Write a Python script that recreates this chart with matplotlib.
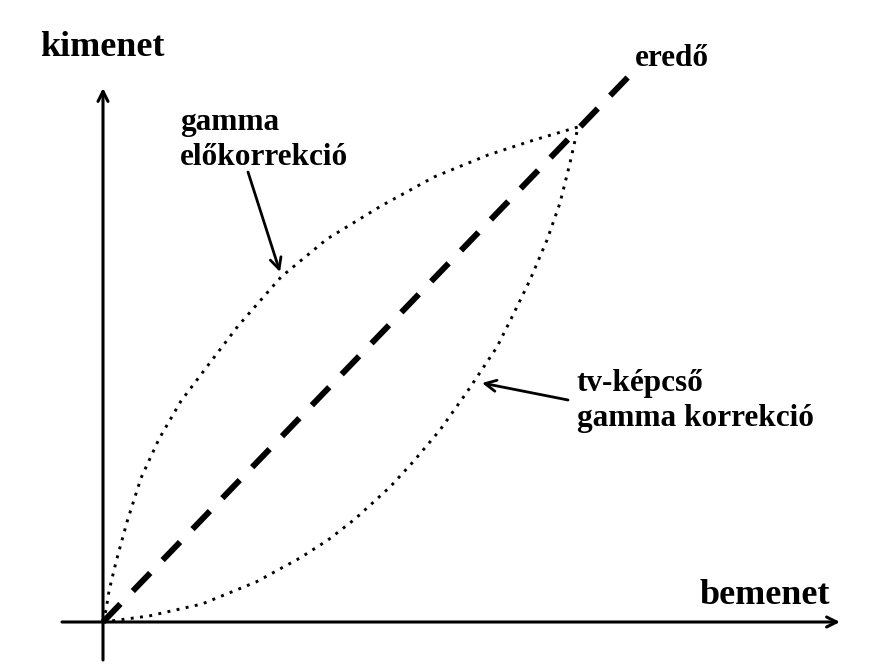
import matplotlib.pyplot as plt

# Görbék pontjai (origó = tengelyek metszéspontja)
elo_x = [0, 3, 6, 13, 24, 38, 56, 78, 106, 135, 178, 224, 278, 331, 385, 431, 475]
elo_y = [0, 12, 31, 60, 100, 144, 183, 221, 258, 296, 345, 383, 416, 445, 467, 482, 495]

tv_x = [0, 46, 99, 153, 197, 225, 252, 287, 310, 337, 364, 394, 410, 427, 444, 457, 467, 475]
tv_y = [0, 6, 18, 40, 64, 82, 103, 135, 160, 192, 230, 275, 307, 342, 382, 419, 459, 495]

ered_x = [0, 529]
ered_y = [0, 549]

# Tengelyek kiterjedése
x_tengely = (-41, 737)
y_tengely = (-38, 534)

plt.rcParams['font.family'] = ['Liberation Serif', 'DejaVu Serif']
plt.rcParams['font.weight'] = 'bold'

fig = plt.figure(figsize=(8.86, 6.71), dpi=100)
ax = fig.add_axes([0, 0, 1, 1])
ax.set_xlim(-103, 783)
ax.set_ylim(-49, 622)
ax.axis('off')

# Tengelyek nyíllal
nyil = dict(arrowstyle='->', lw=2.2, color='black', mutation_scale=18,
            shrinkA=0, shrinkB=0)
ax.annotate('', xy=(x_tengely[1], 0), xytext=(x_tengely[0], 0), arrowprops=nyil)
ax.annotate('', xy=(0, y_tengely[1]), xytext=(0, y_tengely[0]), arrowprops=nyil)

# Görbék
ax.plot(elo_x, elo_y, color='black', lw=2.1, ls=(0, (1, 2.2)))
ax.plot(tv_x, tv_y, color='black', lw=2.1, ls=(0, (1, 2.2)))
ax.plot(ered_x, ered_y, color='black', lw=4.3, ls=(0, (4.2, 3.0)))

# Feliratok
ax.text(-63, 574, 'kimenet', fontsize=26, fontweight='bold', va='center', ha='left')
ax.text(597, 26, 'bemenet', fontsize=26, fontweight='bold', va='center', ha='left')
ax.text(532, 564, 'eredő', fontsize=22.5, fontweight='bold', va='center', ha='left')
ax.text(77, 482, 'gamma\nelőkorrekció', fontsize=22.5, fontweight='bold',
        va='center', ha='left', linespacing=1.3)
ax.text(474, 221, 'tv-képcső\ngamma korrekció', fontsize=22.5, fontweight='bold',
        va='center', ha='left', linespacing=1.3)

# Mutató nyilak
mutato = dict(arrowstyle='->', lw=2, color='black', mutation_scale=20,
              shrinkA=0, shrinkB=0)
ax.annotate('', xy=(177, 350), xytext=(145, 450), arrowprops=mutato)
ax.annotate('', xy=(379, 239), xytext=(465, 222), arrowprops=mutato)

plt.savefig('out.png', dpi=100)
